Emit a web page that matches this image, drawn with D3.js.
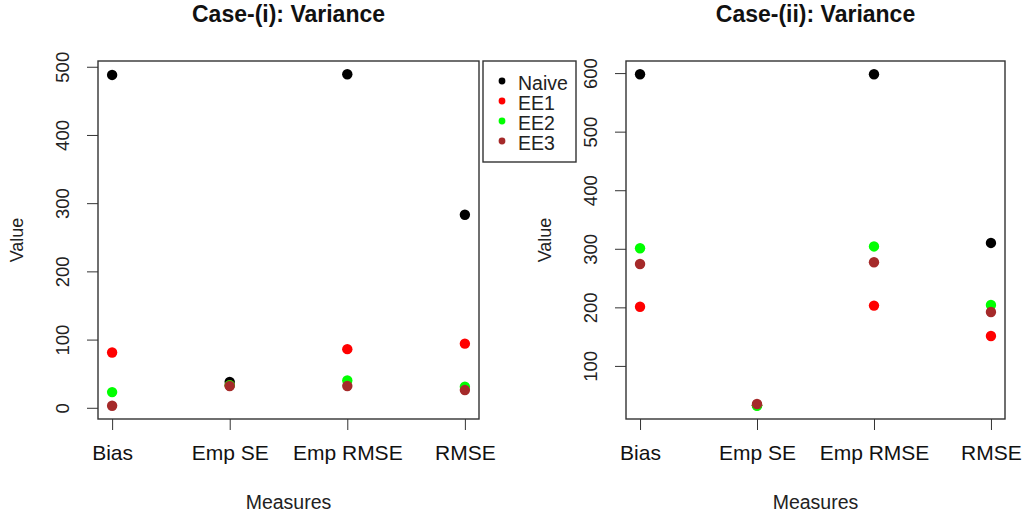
<!DOCTYPE html>
<html>
<head>
<meta charset="utf-8">
<script src="https://cdn.jsdelivr.net/npm/d3@7"></script>
<style>
  body { margin: 0; background: #fff; }
  text { font-family: "Liberation Sans", Arial, sans-serif; }
</style>
</head>
<body>
<div id="chart"></div>
<script>
// data
const measures = ['Bias', 'Emp SE', 'Emp RMSE', 'RMSE'];
const methods  = ['Naive', 'EE1', 'EE2', 'EE3'];
const colors   = ['#000000', '#ff0000', '#00ff00', '#a52a2a'];

const case1Naive = [488, 38, 489, 283];
const case1EE1   = [81, 33, 86, 94];
const case1EE2   = [23, 33, 40, 31];
const case1EE3   = [3, 32, 32, 26];

const case2Naive = [598, 33, 598, 310];
const case2EE1   = [201, 33, 203, 151];
const case2EE2   = [301, 32, 304, 204];
const case2EE3   = [274, 35, 277, 192];

const case1Ticks = [0, 100, 200, 300, 400, 500];
const case2Ticks = [100, 200, 300, 400, 500, 600];

let svg = d3.select('#chart').append('svg')
    .attr('width', 1026)
    .attr('height', 516);

function drawPanel(title, series, ticks, left, right) {
    let top = 61, bottom = 419;
    let all = series.flat();
    let lo = d3.min(all), hi = d3.max(all);
    let pad = (hi - lo) * 0.04;

    let x = d3.scaleLinear().domain([0.88, 4.12]).range([left, right]);
    let y = d3.scaleLinear().domain([lo - pad, hi + pad]).range([bottom, top]);

    let g = svg.append('g');

    g.append('text')
        .attr('x', (left + right) / 2).attr('y', 22)
        .attr('text-anchor', 'middle')
        .attr('font-size', 23).attr('font-weight', 'bold')
        .attr('fill', '#111')
        .text(title);

    // y axis
    let yAxis = g.append('g')
        .attr('transform', `translate(${left},0)`)
        .call(d3.axisLeft(y).tickValues(ticks).tickSize(11).tickSizeOuter(0).tickFormat(d3.format('d')));
    yAxis.select('.domain').remove();
    yAxis.selectAll('.tick line').attr('stroke', '#333');
    yAxis.selectAll('.tick text')
        .attr('x', null).attr('dy', null)
        .attr('transform', 'translate(-29,0) rotate(-90)')
        .attr('text-anchor', 'middle')
        .attr('font-size', 18.5)
        .attr('fill', '#222');

    // x axis
    let xAxis = g.append('g')
        .attr('transform', `translate(0,${bottom})`)
        .call(d3.axisBottom(x).tickValues([1, 2, 3, 4]).tickSize(11).tickSizeOuter(0)
            .tickFormat((d, i) => measures[i]));
    xAxis.select('.domain').remove();
    xAxis.selectAll('.tick line').attr('stroke', '#333');
    xAxis.selectAll('.tick text')
        .attr('y', 41).attr('dy', null)
        .attr('font-size', 21)
        .attr('fill', '#111');

    g.append('rect')
        .attr('x', left).attr('y', top)
        .attr('width', right - left).attr('height', bottom - top)
        .attr('fill', 'none').attr('stroke', '#333').attr('stroke-width', 1.4);

    g.append('text')
        .attr('transform', `translate(${left - 75},${(top + bottom) / 2}) rotate(-90)`)
        .attr('text-anchor', 'middle')
        .attr('font-size', 18).attr('fill', '#222')
        .text('Value');

    g.append('text')
        .attr('x', (left + right) / 2).attr('y', 509)
        .attr('text-anchor', 'middle')
        .attr('font-size', 19.5).attr('fill', '#222')
        .text('Measures');

    series.forEach((vals, k) => {
        g.selectAll('circle.s' + k).data(vals).enter().append('circle')
            .attr('class', 's' + k)
            .attr('cx', (d, i) => x(i + 1))
            .attr('cy', d => y(d))
            .attr('r', 5.2)
            .attr('fill', colors[k]);
    });
}

drawPanel('Case-(i): Variance', [case1Naive, case1EE1, case1EE2, case1EE3], case1Ticks, 98, 479);
drawPanel('Case-(ii): Variance', [case2Naive, case2EE1, case2EE2, case2EE3], case2Ticks, 626, 1005);

// legend
let leg = svg.append('g');
leg.append('rect')
    .attr('x', 483).attr('y', 61).attr('width', 93).attr('height', 101)
    .attr('fill', '#fff').attr('stroke', '#333').attr('stroke-width', 1.4);
methods.forEach((m, i) => {
    leg.append('circle')
        .attr('cx', 502).attr('cy', 81 + i * 20).attr('r', 3.4)
        .attr('fill', colors[i]);
    leg.append('text')
        .attr('x', 518).attr('y', 90 + i * 20)
        .attr('font-size', 19.5).attr('fill', '#222')
        .text(m);
});
</script>
</body>
</html>
